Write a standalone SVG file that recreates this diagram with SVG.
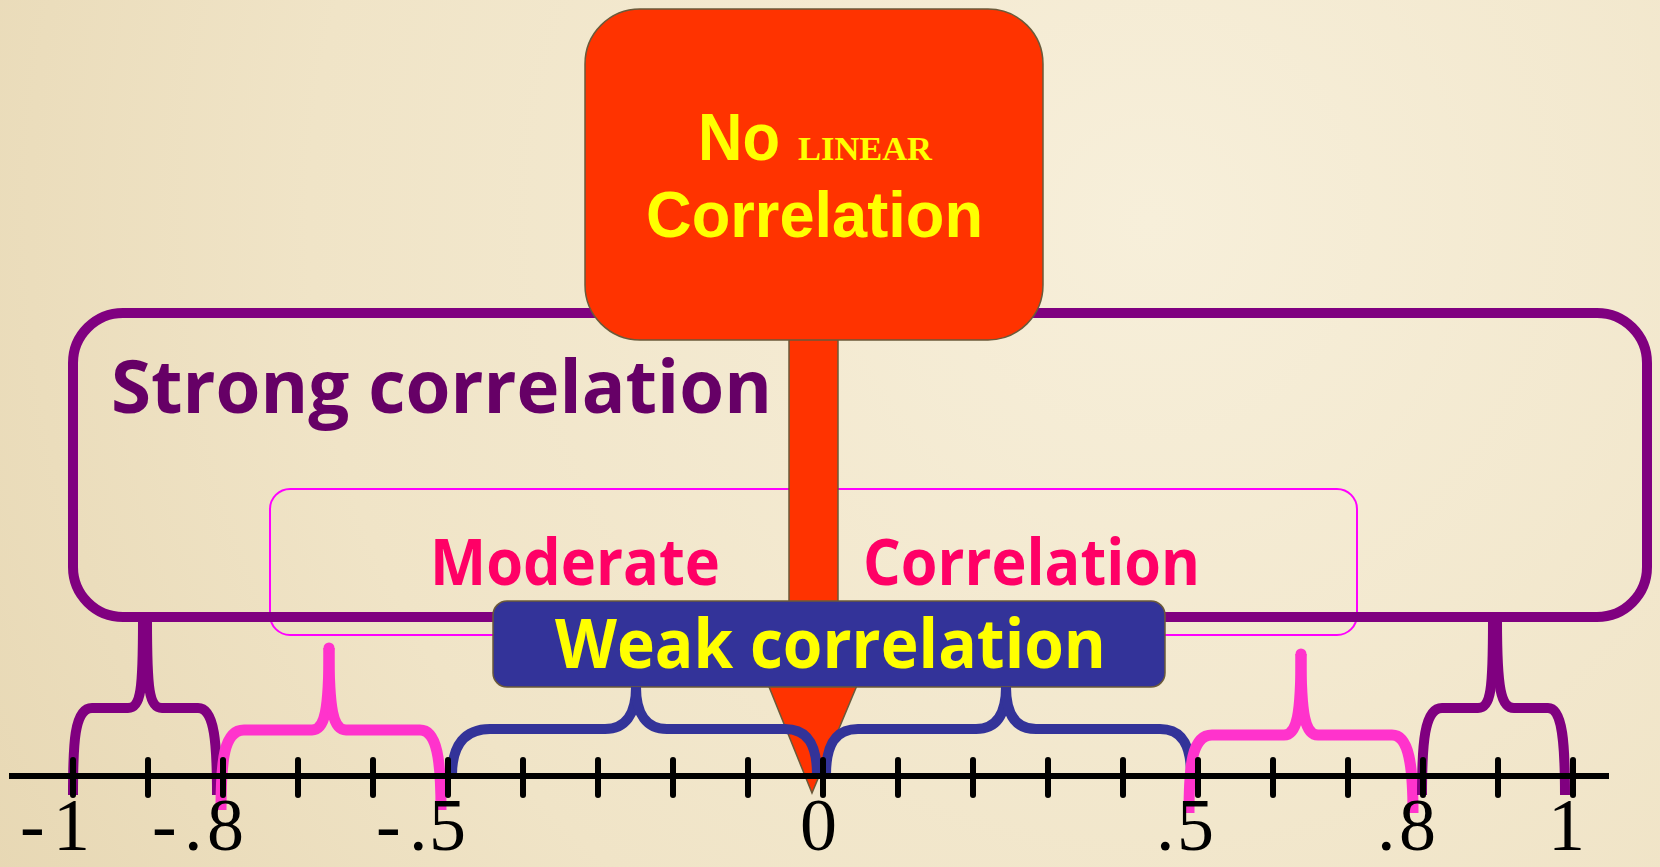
<svg xmlns="http://www.w3.org/2000/svg" width="1660" height="867" viewBox="0 0 1660 867">
<defs>
<radialGradient id="bg" cx="1150" cy="220" r="1400" gradientUnits="userSpaceOnUse">
<stop offset="0" stop-color="#F7EFDA"/>
<stop offset="0.6" stop-color="#F0E4C7"/>
<stop offset="1" stop-color="#E6D6B1"/>
</radialGradient>
<style>
.comic{font-family:"Open Sans","DejaVu Sans",sans-serif;font-weight:bold}
.comic2{font-family:"Liberation Sans",Arial,sans-serif;font-weight:bold}
.num{font-family:"Liberation Serif","Times New Roman",serif;font-size:74px;fill:#000}
.tick{stroke:#000;stroke-width:6;stroke-linecap:round}
.br{fill:none;stroke-width:10;stroke-linecap:butt;stroke-linejoin:round}
.purple{stroke:#800080}
.pink{stroke:#FF33CC;stroke-width:11}
.navy{stroke:#333399}
.edge{stroke:#6B5A3A;stroke-width:1.5}
</style>
</defs>
<rect width="1660" height="867" fill="url(#bg)"/>

<g id="moderate">
<rect x="270" y="489" width="1087" height="146" rx="20" fill="none" stroke="#FF00FF" stroke-width="2"/>
<text class="comic" x="430" y="585" font-size="64" fill="#FF0066" textLength="290" lengthAdjust="spacingAndGlyphs">Moderate</text>
<text class="comic" x="863" y="585" font-size="64" fill="#FF0066" textLength="337" lengthAdjust="spacingAndGlyphs">Correlation</text>
</g>

<g id="strong">
<rect x="73" y="313" width="1574" height="304" rx="50" fill="none" stroke="#800080" stroke-width="10"/>
<text class="comic" x="111" y="413" font-size="74" fill="#660066" textLength="661" lengthAdjust="spacingAndGlyphs">Strong correlation</text>
</g>

<g id="nolinear">
<path d="M789,330 L789,640 L750,640 L812,793 L876,640 L838,640 L838,330 Z" fill="#FF3300" class="edge"/>
<rect x="585" y="9" width="458" height="331" rx="55" fill="#FF3300" class="edge"/>
<text class="comic2" x="698" y="160" font-size="66" fill="#FFFF00" textLength="82" lengthAdjust="spacingAndGlyphs">No</text>
<text x="798" y="160" font-family="Liberation Serif,serif" font-weight="bold" font-size="34" fill="#FFFF00" textLength="134" lengthAdjust="spacingAndGlyphs">LINEAR</text>
<text class="comic2" x="646" y="237" font-size="65" fill="#FFFF00" textLength="337" lengthAdjust="spacingAndGlyphs">Correlation</text>
</g>

<g id="weak">
<rect x="493" y="601" width="672" height="86" rx="14" fill="#333399" class="edge"/>
<text class="comic" x="555" y="668" font-size="68" fill="#FFFF00" textLength="551" lengthAdjust="spacingAndGlyphs">Weak correlation</text>
</g>

<g id="connectors">
<path class="br purple" d="M73,795 C73,745 74,708 92,708 L128,708 C141,708 143,690 143,620"/>
<path class="br purple" d="M147,620 C147,690 149,708 162,708 L198,708 C215,708 217,745 217,795"/>
<path class="br pink" d="M221,810 C221,760 224,730 244,730 L312,730 C325,730 329,710 329,648"/>
<path class="br pink" d="M329,648 C329,710 333,730 346,730 L420,730 C437,730 441,760 441,810"/>
<circle cx="329" cy="648" r="5.5" fill="#FF33CC"/>
<path class="br navy" d="M452,775 C452,745 465,729 490,729 L605,729 C625,729 636,715 636,687"/>
<path class="br navy" d="M636,687 C636,715 647,729 667,729 L785,729 C808,729 817,745 817,775"/>
<path class="br navy" d="M826,775 C826,745 835,729 858,729 L976,729 C996,729 1006,715 1006,687"/>
<path class="br navy" d="M1006,687 C1006,715 1016,729 1036,729 L1160,729 C1182,729 1191,745 1191,775"/>
<path class="br pink" d="M1189,813 C1189,765 1192,735 1212,735 L1284,735 C1297,735 1301,715 1301,654"/>
<path class="br pink" d="M1301,654 C1301,715 1305,735 1318,735 L1392,735 C1409,735 1413,765 1413,813"/>
<circle cx="1301" cy="654" r="5.5" fill="#FF33CC"/>
<path class="br purple" d="M1422,795 C1422,745 1424,708 1442,708 L1478,708 C1491,708 1493,690 1493,620"/>
<path class="br purple" d="M1497,620 C1497,690 1501,708 1514,708 L1548,708 C1563,708 1565,745 1565,795"/>
</g>

<g id="axis">
<line x1="9" y1="776" x2="1609" y2="776" stroke="#000" stroke-width="6"/>
<line class="tick" x1="73" y1="760" x2="73" y2="795"/>
<line class="tick" x1="148" y1="760" x2="148" y2="795"/>
<line class="tick" x1="223" y1="760" x2="223" y2="795"/>
<line class="tick" x1="298" y1="760" x2="298" y2="795"/>
<line class="tick" x1="373" y1="760" x2="373" y2="795"/>
<line class="tick" x1="448" y1="760" x2="448" y2="795"/>
<line class="tick" x1="523" y1="760" x2="523" y2="795"/>
<line class="tick" x1="598" y1="760" x2="598" y2="795"/>
<line class="tick" x1="673" y1="760" x2="673" y2="795"/>
<line class="tick" x1="748" y1="760" x2="748" y2="795"/>
<line class="tick" x1="823" y1="760" x2="823" y2="795"/>
<line class="tick" x1="898" y1="760" x2="898" y2="795"/>
<line class="tick" x1="973" y1="760" x2="973" y2="795"/>
<line class="tick" x1="1048" y1="760" x2="1048" y2="795"/>
<line class="tick" x1="1123" y1="760" x2="1123" y2="795"/>
<line class="tick" x1="1198" y1="760" x2="1198" y2="795"/>
<line class="tick" x1="1273" y1="760" x2="1273" y2="795"/>
<line class="tick" x1="1348" y1="760" x2="1348" y2="795"/>
<line class="tick" x1="1423" y1="760" x2="1423" y2="795"/>
<line class="tick" x1="1498" y1="760" x2="1498" y2="795"/>
<line class="tick" x1="1573" y1="760" x2="1573" y2="795"/>
<text class="num" x="20 53" y="850">-1</text>
<text class="num" x="152 184 207" y="850">-.8</text>
<text class="num" x="376 409 429" y="850">-.5</text>
<text class="num" x="800" y="850">0</text>
<text class="num" x="1156 1177" y="850">.5</text>
<text class="num" x="1377 1399" y="850">.8</text>
<text class="num" x="1548" y="850">1</text>
</g>
</svg>
